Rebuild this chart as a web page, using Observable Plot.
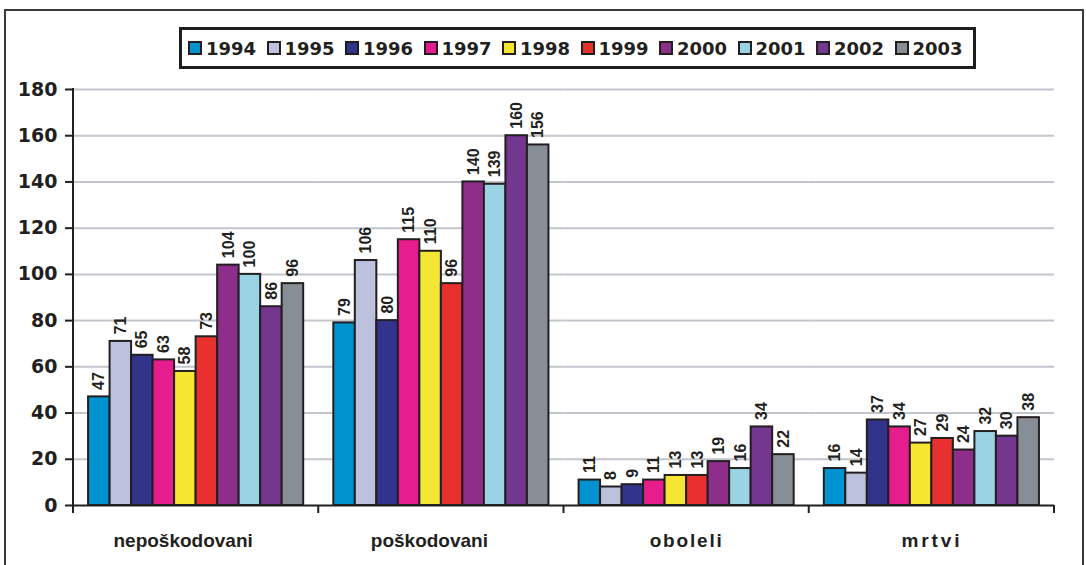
<!DOCTYPE html>
<html>
<head>
<meta charset="utf-8">
<script src="https://cdn.jsdelivr.net/npm/d3@7"></script>
<script src="https://cdn.jsdelivr.net/npm/@observablehq/plot@0.6"></script>
<style>
  html, body { margin: 0; padding: 0; background: #fff; overflow: hidden; }
  #wrap { position: relative; width: 1086px; height: 565px; }
  #outer {
    position: absolute; left: 4px; top: 9px; width: 1080px; height: 600px;
    box-sizing: border-box; border: 2px solid #3a3a3a;
  }
  #legend {
    position: absolute; left: 179px; top: 27px; width: 797px; height: 42px;
    box-sizing: border-box; border: 3px solid #1e1e1e; background: #fff;
    display: flex; align-items: center; padding-left: 6px;
    font-family: "DejaVu Sans", sans-serif; font-weight: bold; font-size: 18px; color: #231f20;
  }
  .item { display: flex; align-items: center; width: 79px; }
  .sw { width: 14px; height: 14px; box-sizing: border-box; border: 2px solid #231f20; margin-right: 4px; }
  #chart { position: absolute; left: 0; top: 0; }
</style>
</head>
<body>
<div id="wrap">
  <div id="outer"></div>
  <div id="chart"></div>
  <div id="legend"></div>
</div>
<script>
// Groups along the x axis and the years within each group
const categories = ["nepoškodovani", "poškodovani", "oboleli", "mrtvi"];
const years = ["1994", "1995", "1996", "1997", "1998", "1999", "2000", "2001", "2002", "2003"];

// Counts per year for each group
const neposkodovani = [47, 71, 65, 63, 58, 73, 104, 100, 86, 96];
const poskodovani = [79, 106, 80, 115, 110, 96, 140, 139, 160, 156];
const oboleli = [11, 8, 9, 11, 13, 13, 19, 16, 34, 22];
const mrtvi = [16, 14, 37, 34, 27, 29, 24, 32, 30, 38];

const yearColors = ["#0093d0", "#bcc2de", "#32338b", "#e61d8c", "#f6e634", "#e8302f",
                    "#8e2e8b", "#9ad4e4", "#733790", "#878e96"];
const yTicks = [0, 20, 40, 60, 80, 100, 120, 140, 160, 180];

const series = [neposkodovani, poskodovani, oboleli, mrtvi];
const rows = categories.flatMap((c, i) =>
  years.map((yr, j) => ({category: c, year: yr, value: series[i][j]}))
);

const ink = "#231f20";

const plot = Plot.plot({
  width: 1086,
  height: 565,
  marginLeft: 73,
  marginRight: 32,
  marginTop: 89,
  marginBottom: 60,
  style: {background: "transparent", color: ink},
  fx: {domain: categories, padding: 0, round: false, label: null},
  x: {domain: years, paddingInner: 0, paddingOuter: 0.7, round: false, axis: null},
  y: {domain: [0, 180], label: null},
  color: {domain: years, range: yearColors},
  marks: [
    Plot.gridY(yTicks.filter(t => t > 0), {stroke: "#c2c5cc", strokeOpacity: 1, strokeWidth: 2}),
    Plot.barY(rows, {
      fx: "category", x: "year", y: "value", fill: "year",
      stroke: ink, strokeWidth: 2, inset: 0
    }),
    Plot.text(rows, {
      fx: "category", x: "year", y: "value", text: d => String(d.value),
      rotate: -90, textAnchor: "start", dy: -7,
      fontFamily: "Liberation Sans", fontWeight: "bold", fontSize: 16, fill: ink
    }),
    Plot.ruleY([0], {stroke: ink, strokeWidth: 2}),
    Plot.axisY({
      ticks: yTicks, tickSize: 8, tickPadding: 8, strokeWidth: 2,
      fontFamily: "DejaVu Sans", fontWeight: "bold", fontSize: 19, label: null
    }),
    Plot.axisFx({
      anchor: "bottom", tickSize: 0, tickPadding: 28, label: null,
      fontFamily: "Liberation Sans", fontWeight: "bold", fontSize: 19
    })
  ]
});

document.getElementById("chart").append(plot);

// Axis lines and group-boundary ticks from the plot's own scales
const svg = d3.select(plot);
const fx = plot.scale("fx");
const y = plot.scale("y");
const x0 = fx.apply(categories[0]);
const bw = fx.bandwidth;
const yZero = y.apply(0), yTop = y.apply(180);

svg.append("line")
  .attr("x1", x0).attr("x2", x0).attr("y1", yTop - 1).attr("y2", yZero + 8)
  .attr("stroke", ink).attr("stroke-width", 2);

const bounds = categories.map(c => fx.apply(c)).concat([fx.apply(categories[categories.length - 1]) + bw]);
svg.append("g").selectAll("line").data(bounds).join("line")
  .attr("x1", d => d).attr("x2", d => d)
  .attr("y1", yZero).attr("y2", yZero + 8)
  .attr("stroke", ink).attr("stroke-width", 2);

// Group names: letter spacing for the short ones, a small left shift for the long ones
const spacing = {"oboleli": "1.8px", "mrtvi": "2.9px"};
const shift = {"nepoškodovani": -13, "poškodovani": -12};
svg.selectAll("text").each(function () {
  const t = this.textContent;
  const s = d3.select(this);
  if (spacing[t]) s.attr("letter-spacing", spacing[t]);
  if (shift[t]) s.attr("dx", shift[t]);
});

// Legend
const legend = d3.select("#legend");
years.forEach((yr, i) => {
  const item = legend.append("div").attr("class", "item");
  item.append("div").attr("class", "sw").style("background", yearColors[i]);
  item.append("span").text(yr);
});
</script>
</body>
</html>
